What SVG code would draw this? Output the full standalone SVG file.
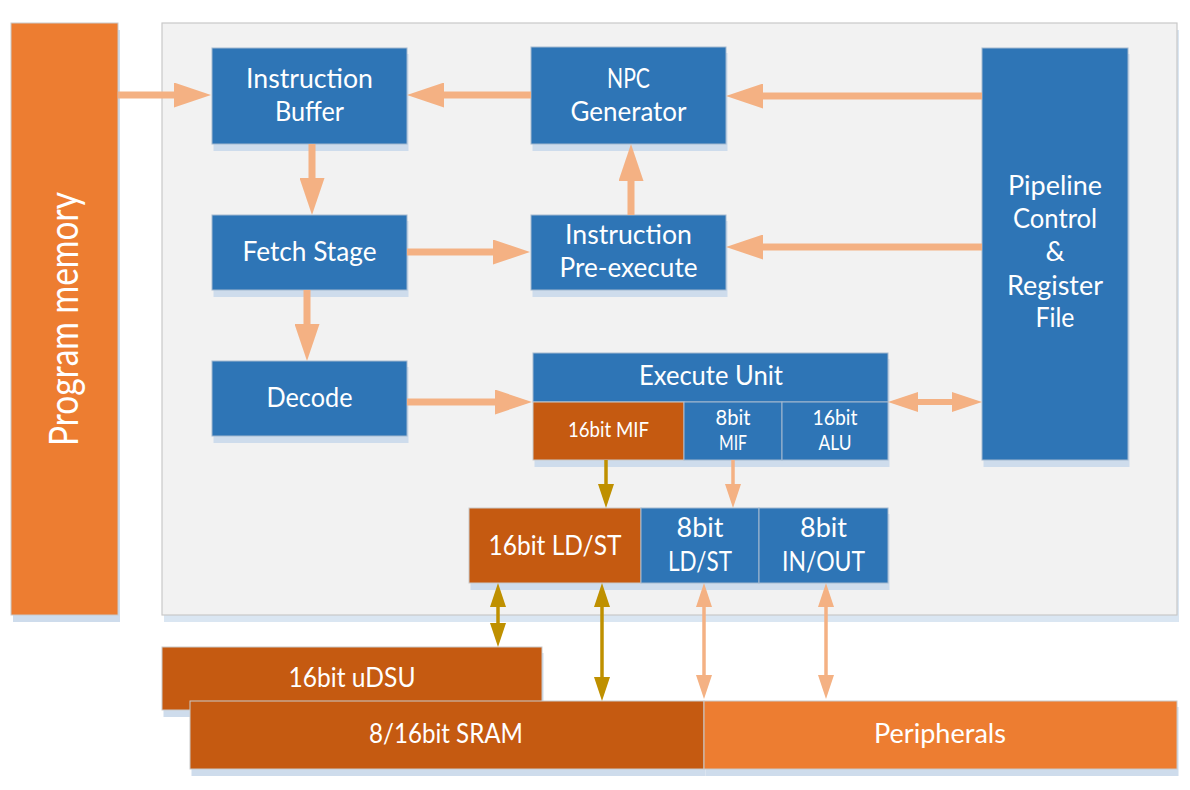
<svg xmlns="http://www.w3.org/2000/svg" width="1190" height="790" viewBox="0 0 1190 790">
<defs>
<style>
text{font-family:Lato,"Open Sans","Liberation Sans",sans-serif;fill:#ffffff;text-anchor:middle}
.t27{font-size:27px}
.t21{font-size:21px}
.t40{font-size:40px}
.blue{fill:#2e75b6;stroke:#a3b9cf;stroke-width:1}
.org{fill:#ed7d31;stroke:#c9c9c9;stroke-width:1}
.dorg{fill:#c55a11;stroke:#c9c9c9;stroke-width:1}
.sh{fill:#cedcec}
.ls{stroke:#f4b183;fill:none}
.lg{stroke:#bf9000;fill:none}
.thick{stroke-width:7}
.med{stroke-width:6}
.thin{stroke-width:3.5}
</style>
<marker id="hT" markerUnits="userSpaceOnUse" markerWidth="37" markerHeight="25" viewBox="0 0 37 25" refX="17" refY="12.5" orient="auto-start-reverse"><path d="M0,0 L37,12.5 L0,25 Z" fill="#f4b183"/></marker>
<marker id="hM" markerUnits="userSpaceOnUse" markerWidth="30" markerHeight="20" viewBox="0 0 30 20" refX="15" refY="10" orient="auto-start-reverse"><path d="M0,0 L30,10 L0,20 Z" fill="#f4b183"/></marker>
<marker id="hS" markerUnits="userSpaceOnUse" markerWidth="24" markerHeight="16" viewBox="0 0 24 16" refX="12" refY="8" orient="auto-start-reverse"><path d="M0,0 L24,8 L0,16 Z" fill="#f4b183"/></marker>
<marker id="hG" markerUnits="userSpaceOnUse" markerWidth="24" markerHeight="16" viewBox="0 0 24 16" refX="12" refY="8" orient="auto-start-reverse"><path d="M0,0 L24,8 L0,16 Z" fill="#bf9000"/></marker>
</defs>
<rect width="1190" height="790" fill="#ffffff"/>

<g id="program-memory">
<rect class="sh" x="13" y="30" width="107" height="592"/>
<rect class="org" x="11" y="23" width="107" height="592"/>
<text class="t40" transform="translate(78,319) rotate(-90)" textLength="254" lengthAdjust="spacingAndGlyphs">Program memory</text>
</g>

<g id="core-panel">
<rect x="164" y="30" width="1015" height="592" fill="#dae6f2"/>
<rect x="162" y="23" width="1015" height="592" fill="#f2f2f2" stroke="#c9c9c9" stroke-width="1.2"/>
</g>

<g id="instruction-buffer">
<rect class="sh" x="213.5" y="54" width="195" height="97"/>
<rect class="blue" x="212" y="48" width="195" height="96"/>
<text class="t27" x="309.5" y="88" textLength="127" lengthAdjust="spacingAndGlyphs">Instruction</text>
<text class="t27" x="309.5" y="121" textLength="69" lengthAdjust="spacingAndGlyphs">Buffer</text>
</g>

<g id="fetch-stage">
<rect class="sh" x="213.5" y="221" width="195" height="76"/>
<rect class="blue" x="212" y="215" width="195" height="75"/>
<text class="t27" x="309.5" y="261" textLength="134" lengthAdjust="spacingAndGlyphs">Fetch Stage</text>
</g>

<g id="decode">
<rect class="sh" x="213.5" y="367" width="195" height="76"/>
<rect class="blue" x="212" y="361" width="195" height="75"/>
<text class="t27" x="309.5" y="407" textLength="86" lengthAdjust="spacingAndGlyphs">Decode</text>
</g>

<g id="npc-generator">
<rect class="sh" x="532.5" y="53" width="195" height="98"/>
<rect class="blue" x="531" y="47" width="195" height="97"/>
<text class="t27" x="628.5" y="88" textLength="43" lengthAdjust="spacingAndGlyphs">NPC</text>
<text class="t27" x="628.5" y="121" textLength="116" lengthAdjust="spacingAndGlyphs">Generator</text>
</g>

<g id="instruction-pre-execute">
<rect class="sh" x="532.5" y="221" width="195" height="76"/>
<rect class="blue" x="531" y="215" width="195" height="75"/>
<text class="t27" x="628.5" y="244" textLength="127" lengthAdjust="spacingAndGlyphs">Instruction</text>
<text class="t27" x="628.5" y="277" textLength="138" lengthAdjust="spacingAndGlyphs">Pre-execute</text>
</g>

<g id="pipeline-control">
<rect class="sh" x="983.5" y="54" width="146" height="413"/>
<rect class="blue" x="982" y="48" width="146" height="412"/>
<text class="t27" x="1055" y="195" textLength="94" lengthAdjust="spacingAndGlyphs">Pipeline</text>
<text class="t27" x="1055" y="228" textLength="84" lengthAdjust="spacingAndGlyphs">Control</text>
<text class="t27" x="1055" y="261">&amp;</text>
<text class="t27" x="1055" y="295" textLength="96" lengthAdjust="spacingAndGlyphs">Register</text>
<text class="t27" x="1055" y="327" textLength="39" lengthAdjust="spacingAndGlyphs">File</text>
</g>

<g id="execute-unit">
<rect class="sh" x="534.5" y="359" width="355" height="108"/>
<rect class="blue" x="533" y="353" width="355" height="49"/>
<rect class="dorg" x="533" y="402" width="151" height="58"/>
<rect class="blue" x="684" y="402" width="98" height="58"/>
<rect class="blue" x="782" y="402" width="106" height="58"/>
<text class="t27" x="711" y="385" textLength="144" lengthAdjust="spacingAndGlyphs">Execute Unit</text>
<text class="t21" x="608.5" y="437" textLength="81" lengthAdjust="spacingAndGlyphs">16bit MIF</text>
<text class="t21" x="733" y="425" textLength="35" lengthAdjust="spacingAndGlyphs">8bit</text>
<text class="t21" x="733" y="450" textLength="28" lengthAdjust="spacingAndGlyphs">MIF</text>
<text class="t21" x="835" y="425" textLength="45" lengthAdjust="spacingAndGlyphs">16bit</text>
<text class="t21" x="835" y="450" textLength="33" lengthAdjust="spacingAndGlyphs">ALU</text>
</g>

<g id="load-store-io">
<rect class="sh" x="470.5" y="514" width="419" height="76"/>
<rect class="dorg" x="469" y="508" width="172" height="75"/>
<rect class="blue" x="641" y="508" width="118" height="75"/>
<rect class="blue" x="759" y="508" width="129" height="75"/>
<text class="t27" x="555" y="555" textLength="133" lengthAdjust="spacingAndGlyphs">16bit LD/ST</text>
<text class="t27" x="700" y="537" textLength="47" lengthAdjust="spacingAndGlyphs">8bit</text>
<text class="t27" x="700" y="571" textLength="64" lengthAdjust="spacingAndGlyphs">LD/ST</text>
<text class="t27" x="823.5" y="537" textLength="47" lengthAdjust="spacingAndGlyphs">8bit</text>
<text class="t27" x="823.5" y="571" textLength="83" lengthAdjust="spacingAndGlyphs">IN/OUT</text>
</g>

<g id="udsu">
<rect class="sh" x="163.5" y="653" width="380" height="64"/>
<rect class="dorg" x="162" y="647" width="380" height="63"/>
<text class="t27" x="352" y="687" textLength="127" lengthAdjust="spacingAndGlyphs">16bit uDSU</text>
</g>

<g id="sram">
<rect class="sh" x="191.5" y="707" width="514" height="69"/>
<rect class="dorg" x="190" y="701" width="514" height="68"/>
<text class="t27" x="446" y="743" textLength="154" lengthAdjust="spacingAndGlyphs">8/16bit SRAM</text>
</g>

<g id="peripherals">
<rect class="sh" x="705.5" y="707" width="473" height="69"/>
<rect class="org" x="704" y="701" width="473" height="68"/>
<text class="t27" x="940" y="743" textLength="132" lengthAdjust="spacingAndGlyphs">Peripherals</text>
</g>

<g id="connectors">
<line class="ls thick" x1="118" y1="95" x2="191" y2="95" marker-end="url(#hT)"/>
<line class="ls thick" x1="531" y1="95" x2="427" y2="95" marker-end="url(#hT)"/>
<line class="ls thick" x1="982" y1="96" x2="746" y2="96" marker-end="url(#hT)"/>
<line class="ls thick" x1="982" y1="247" x2="746" y2="247" marker-end="url(#hT)"/>
<line class="ls thick" x1="312" y1="144" x2="312" y2="195" marker-end="url(#hT)"/>
<line class="ls thick" x1="407" y1="252" x2="510" y2="252" marker-end="url(#hT)"/>
<line class="ls thick" x1="307" y1="290" x2="307" y2="341" marker-end="url(#hT)"/>
<line class="ls thick" x1="631" y1="215" x2="631" y2="164" marker-end="url(#hT)"/>
<line class="ls thick" x1="407" y1="402" x2="512" y2="402" marker-end="url(#hT)"/>
<line class="ls med" x1="903" y1="402" x2="967" y2="402" marker-start="url(#hM)" marker-end="url(#hM)"/>
<line class="lg thin" x1="606" y1="460" x2="606" y2="496" marker-end="url(#hG)"/>
<line class="ls thin" x1="733" y1="460" x2="733" y2="496" marker-end="url(#hS)"/>
<line class="lg thin" x1="498" y1="595" x2="498" y2="635" marker-start="url(#hG)" marker-end="url(#hG)"/>
<line class="lg thin" x1="602" y1="595" x2="602" y2="689" marker-start="url(#hG)" marker-end="url(#hG)"/>
<line class="ls thin" x1="704" y1="595" x2="704" y2="687" marker-start="url(#hS)" marker-end="url(#hS)"/>
<line class="ls thin" x1="826" y1="595" x2="826" y2="687" marker-start="url(#hS)" marker-end="url(#hS)"/>
</g>
</svg>
